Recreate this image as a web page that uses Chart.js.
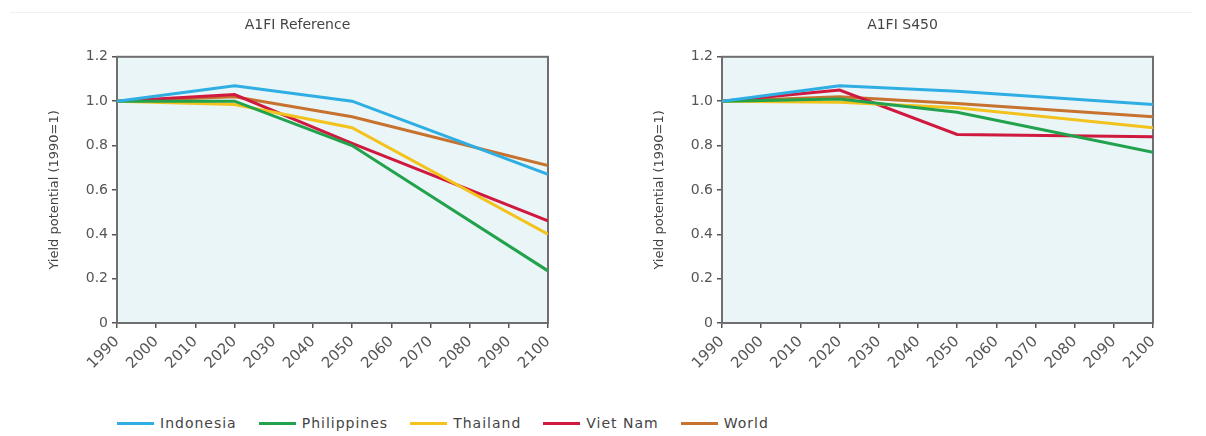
<!DOCTYPE html>
<html>
<head>
<meta charset="utf-8">
<script src="https://cdn.jsdelivr.net/npm/chart.js@4.4.1/dist/chart.umd.min.js"></script>
<style>
    body { margin: 0; background: #fff; font-family: "DejaVu Sans", sans-serif; }
    #wrap { position: relative; width: 1206px; height: 436px; }
    #topline { position: absolute; left: 10px; right: 14px; top: 12px; height: 1px; background: #f0f0f0; }
    .panel { position: absolute; top: 0; width: 600px; height: 400px; }
    #left { left: 0; }
    #right { left: 605px; }
    #legend { position: absolute; top: 415px; left: 117px; display: flex; align-items: center; font-size: 14px; color: #444; letter-spacing: 1px; }
    .item { display: flex; align-items: center; margin-right: 22px; }
    .swatch { width: 37px; height: 3px; margin-right: 6px; }
</style>
</head>
<body>
<div id="wrap">
    <div id="topline"></div>
    <div class="panel" id="left"><canvas id="chart-ref"></canvas></div>
    <div class="panel" id="right"><canvas id="chart-s450"></canvas></div>
    <div id="legend"></div>
</div>
<script>
const years = [1990, 2020, 2050, 2100];
const countries = ['Indonesia', 'Philippines', 'Thailand', 'Viet Nam', 'World'];
const colors = ['#2eaee3', '#22a24c', '#f4c21d', '#d0193f', '#c7732f'];
const yTickValues = [0, 0.2, 0.4, 0.6, 0.8, 1.0, 1.2];

// A1FI Reference
const refIndonesia   = [1.0, 1.07, 1.0, 0.67];
const refPhilippines = [1.0, 1.0, 0.80, 0.235];
const refThailand    = [1.0, 0.985, 0.88, 0.40];
const refVietNam     = [1.0, 1.03, 0.81, 0.46];
const refWorld       = [1.0, 1.02, 0.93, 0.71];

// A1FI S450
const s450Indonesia   = [1.0, 1.07, 1.045, 0.985];
const s450Philippines = [1.0, 1.01, 0.95, 0.77];
const s450Thailand    = [1.0, 0.995, 0.97, 0.88];
const s450VietNam     = [1.0, 1.05, 0.85, 0.84];
const s450World       = [1.0, 1.02, 0.99, 0.93];

const plotBox = {
    id: 'plotBox',
    beforeDatasetsDraw(chart) {
        const a = chart.chartArea;
        const ctx = chart.ctx;
        ctx.save();
        ctx.fillStyle = '#e9f5f7';
        ctx.fillRect(a.left, a.top, a.right - a.left, a.bottom - a.top);
        ctx.strokeStyle = '#6f6f6f';
        ctx.lineWidth = 2;
        ctx.strokeRect(a.left, a.top, a.right - a.left, a.bottom - a.top);
        ctx.restore();
    }
};

function makeChart(id, title, series) {
    const datasets = series.map((vals, i) => ({
        label: countries[i],
        data: vals.map((v, j) => ({ x: years[j], y: v })),
        borderColor: colors[i],
        borderWidth: 3,
        pointRadius: 0,
        tension: 0
    }));
    return new Chart(document.getElementById(id), {
        type: 'line',
        data: { datasets: datasets },
        plugins: [plotBox],
        options: {
            responsive: false,
            animation: false,
            layout: { padding: { left: 47, right: 52, top: 0, bottom: 0 } },
            plugins: {
                legend: { display: false },
                tooltip: { enabled: false },
                title: {
                    display: true,
                    text: title,
                    color: '#444',
                    font: { size: 14, family: 'DejaVu Sans', weight: 'normal' },
                    padding: { top: 17, bottom: 23 }
                }
            },
            scales: {
                x: {
                    type: 'linear',
                    min: 1990,
                    max: 2100,
                    afterFit: s => { s.height = 77; },
                    afterBuildTicks: s => {
                        s.ticks = [];
                        for (let y = 1990; y <= 2100; y += 10) s.ticks.push({ value: y });
                    },
                    ticks: {
                        color: '#555',
                        font: { size: 15, family: 'DejaVu Sans' },
                        minRotation: 45,
                        maxRotation: 45,
                        padding: 5,
                        callback: v => String(v)
                    },
                    grid: { drawOnChartArea: false, tickLength: 5, color: '#555', lineWidth: 1.5 },
                    border: { color: '#6f6f6f', width: 2 }
                },
                y: {
                    min: 0,
                    max: 1.2,
                    afterFit: s => { s.width = 70; },
                    afterBuildTicks: s => { s.ticks = yTickValues.map(v => ({ value: v })); },
                    ticks: {
                        color: '#555',
                        font: { size: 14, family: 'DejaVu Sans' },
                        padding: 4,
                        callback: v => v === 0 ? '0' : v.toFixed(1)
                    },
                    grid: { drawOnChartArea: false, tickLength: 5, color: '#555', lineWidth: 1.5 },
                    border: { color: '#6f6f6f', width: 2 },
                    title: {
                        display: true,
                        text: 'Yield potential (1990=1)',
                        color: '#444',
                        font: { size: 13, family: 'DejaVu Sans' },
                        padding: { top: 0, bottom: 6 }
                    }
                }
            }
        }
    });
}

function sizeCanvas(id) {
    const c = document.getElementById(id);
    c.width = 600;
    c.height = 400;
}

sizeCanvas('chart-ref');
sizeCanvas('chart-s450');

makeChart('chart-ref', 'A1FI Reference',
    [refIndonesia, refPhilippines, refThailand, refVietNam, refWorld]);
makeChart('chart-s450', 'A1FI S450',
    [s450Indonesia, s450Philippines, s450Thailand, s450VietNam, s450World]);

// legend
const legend = document.getElementById('legend');
countries.forEach((name, i) => {
    const item = document.createElement('div');
    item.className = 'item';
    item.innerHTML = `<span class="swatch" style="background:${colors[i]}"></span><span>${name}</span>`;
    legend.appendChild(item);
});
</script>
</body>
</html>
